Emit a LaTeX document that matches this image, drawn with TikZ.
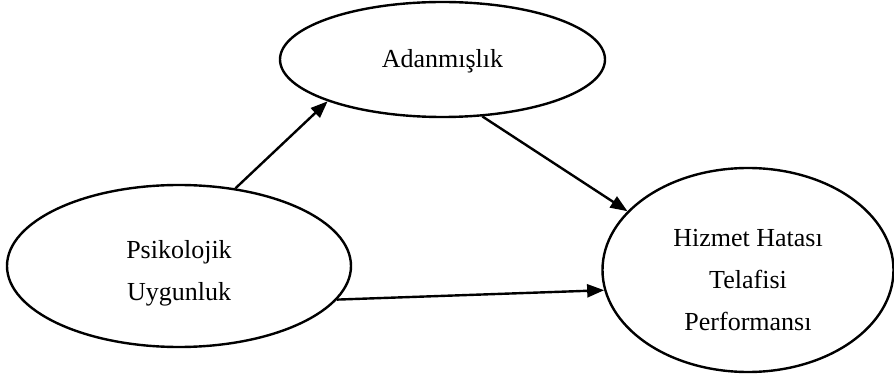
\documentclass[tikz,border=0pt]{standalone}
\usepackage{fontspec}
\setmainfont{Liberation Serif}
\usetikzlibrary{shapes.geometric,arrows.meta}
\begin{document}
\begin{tikzpicture}[x=1pt,y=-1pt]
\useasboundingbox (0,0) rectangle (894,379);
\tikzset{oval/.style={ellipse, draw, line width=2.4pt, inner sep=0pt},
  words/.style={align=center, font=\fontsize{26}{42}\selectfont},
  link/.style={line width=2.4pt, -{Triangle[length=17pt,width=13pt]}}}
\node[oval, minimum width=325, minimum height=115] (ada) at (442.5,59.5){};
\node[words] (adatext) at ([yshift=-2pt]ada){Adanmışlık};
\node[oval, minimum width=344, minimum height=162] (psy) at (179,266){};
\node[words] (psytext) at ([yshift=-7pt]psy){Psikolojik\\Uygunluk};
\node[oval, minimum width=291, minimum height=204] (hiz) at (748,270){};
\node[words] (hiztext) at ([yshift=-10pt]hiz){Hizmet Hatası\\Telafisi\\Performansı};
\draw[link](psy.54) -- (ada.200.6);
\draw[link](ada.305.6) -- (hiz.154.2);
\draw[link](psy.348.4) -- (hiz.188.2);

\end{tikzpicture}
\end{document}
